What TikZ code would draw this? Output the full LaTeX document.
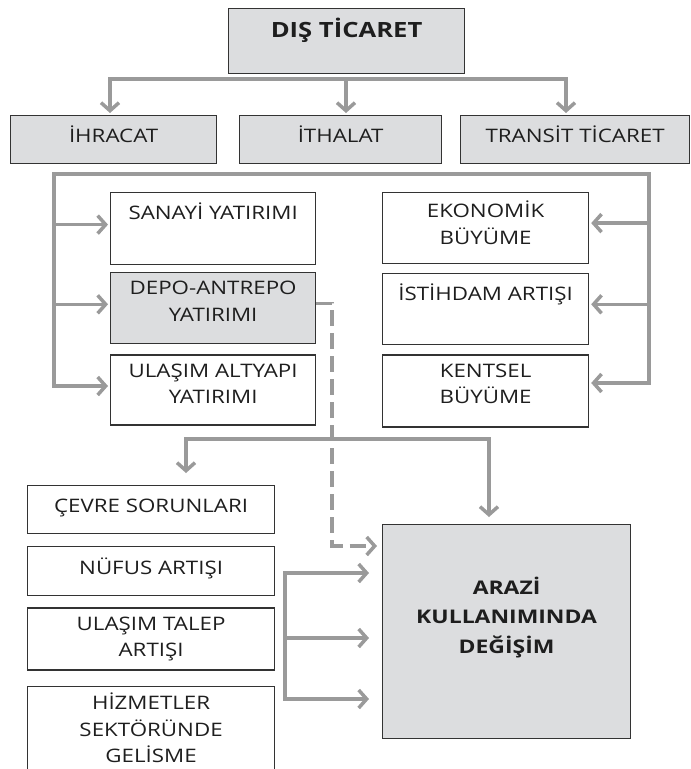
\documentclass[tikz,border=0pt]{standalone}
\usepackage{fontspec}
\newfontfamily\boxfam{Open Sans}[FakeStretch=1.2]
\newfontfamily\headfam{Open Sans}[UprightFont=* Bold, FakeStretch=1.22]
\newcommand\boxfont{\boxfam\fontsize{18.6}{26.5}\selectfont}
\newcommand\topfont{\headfam\fontsize{21}{26}\selectfont}
\newcommand\bigfont{\headfam\fontsize{18.8}{29.5}\selectfont}
\usetikzlibrary{positioning}
\usetikzlibrary{arrows.meta}
\usetikzlibrary{calc}
\definecolor{panel}{HTML}{DCDDDF}
\definecolor{wire}{HTML}{9A9A9A}
\definecolor{edge}{HTML}{333333}
\definecolor{ink}{HTML}{1E1E1E}
\tikzset{
  box/.style={draw=edge, line width=1.2pt, anchor=north west, inner sep=0pt},
  grey/.style={box, fill=panel},
  txt/.style={font=\boxfont, text=ink, align=center, inner sep=0pt, anchor=north, yshift=-9pt,
    execute at begin node={\rule{0pt}{18pt}}},
  link/.style={draw=wire, line width=3.5pt},
  arr/.style={link, -{Straight Barb[length=8pt,width=18pt]}},
}

\begin{document}
\begin{tikzpicture}[x=1pt, y=-1pt]
        \useasboundingbox (0,0) rectangle (691,769);

        \node[grey, minimum width=236pt, minimum height=65pt,
          label={[txt, font=\topfont, yshift=-1pt]north:DIŞ TİCARET}] (dis) at (228,8) {};

        \node[grey, minimum width=206pt, minimum height=48pt, label={[txt]north:İHRACAT}] (ihr) at (10,115) {};
        \node[grey, minimum width=202pt, minimum height=48pt, label={[txt]north:İTHALAT}] (ith) at (239,115) {};
        \node[grey, minimum width=229pt, minimum height=48pt, label={[txt]north:TRANSİT TİCARET}] (trn) at (460,115) {};

        \node[box, minimum width=205pt, minimum height=72pt, label={[txt]north:SANAYİ YATIRIMI}] (snyi) at (110,192) {};
        \node[grey, minimum width=205pt, minimum height=71pt, label={[txt]north:DEPO-ANTREPO\\YATIRIMI}] (depo) [below=7pt of snyi.south west, anchor=north west] {};
        \node[box, minimum width=205pt, minimum height=70pt, label={[txt]north:ULAŞIM ALTYAPI\\YATIRIMI}] (ulas) [below=10pt of depo.south west, anchor=north west] {};

        \node[box, minimum width=206pt, minimum height=71pt, label={[txt]north:EKONOMİK\\BÜYÜME}] (eko) at (382,192) {};
        \node[box, minimum width=206pt, minimum height=71pt, label={[txt]north:İSTİHDAM ARTIŞI}] (ist) [below=9pt of eko.south west, anchor=north west] {};
        \node[box, minimum width=206pt, minimum height=72pt, label={[txt]north:KENTSEL\\BÜYÜME}] (ken) [below=9pt of ist.south west, anchor=north west] {};

        \node[box, minimum width=247pt, minimum height=48pt, label={[txt]north:ÇEVRE SORUNLARI}] (cev) at (27,485) {};
        \node[box, minimum width=247pt, minimum height=49pt, label={[txt, yshift=-1pt]north:NÜFUS ARTIŞI}] (nuf) [below=12pt of cev.south west, anchor=north west] {};
        \node[box, minimum width=247pt, minimum height=62pt, label={[txt]north:ULAŞIM TALEP\\ARTIŞI}] (tlp) [below=11pt of nuf.south west, anchor=north west] {};
        \node[box, minimum width=247pt, minimum height=95pt, label={[txt, yshift=2pt]north:HİZMETLER\\SEKTÖRÜNDE\\GELİSME}] (hiz) [below=15pt of tlp.south west, anchor=north west] {};

        \node[grey, minimum width=248pt, minimum height=214pt,
          label={[txt, font=\bigfont, yshift=-43.7pt]north:ARAZİ\\KULLANIMINDA\\DEĞİŞİM}] (arz) at (382,524) {};

        % top bar
        \coordinate (tl) at (110,79);
        \coordinate (tm) at (346,79);
        \coordinate (tr) at (566,79);
        \draw[arr, shorten >=2pt] (tr) -- (tl) -- (tl |- ihr.north);
        \draw[arr, shorten >=2pt] (tl) -- (tr) -- (tr |- trn.north);
        \draw[arr, shorten >=2pt] (tm) -- (tm |- ith.north);

        % frame to the investment and growth boxes
        \coordinate (fl) at (54,174);
        \coordinate (fr) at (649,174);
        \coordinate (a1) at ([yshift=4pt]snyi.west);
        \coordinate (a2) at ([yshift=4pt]depo.west);
        \coordinate (a3) at ([yshift=4pt]ulas.west);
        \coordinate (b1) at ([yshift=5pt]eko.east);
        \coordinate (b2) at ([yshift=5pt]ist.east);
        \coordinate (b3) at ([yshift=8pt]ken.east);
        \draw[arr, shorten >=2pt] (fr) -- (fl) |- (a3);
        \draw[arr, shorten >=2pt] (fl |- a1) -- (a1);
        \draw[arr, shorten >=2pt] (fl |- a2) -- (a2);
        \draw[arr, shorten >=2pt] (fl) -- (fr) |- (b3);
        \draw[arr, shorten >=2pt] (fr |- b1) -- (b1);
        \draw[arr, shorten >=2pt] (fr |- b2) -- (b2);

        % lower bar
        \coordinate (ll) at (186,439);
        \coordinate (lr) at (489,439);
        \draw[arr, shorten >=12pt] (lr) -- (ll) -- (ll |- cev.north);
        \draw[arr, shorten >=7pt] (ll) -- (lr) -- (lr |- arz.north);

        % dashed link from the depot box
        \coordinate (dtip) at ([shift={(0,22)}]arz.north west);
        \draw[arr, shorten >=5pt, dash pattern=on 16pt off 7pt]
          ([yshift=5pt]depo.east) -- ++(16,0) |- (dtip);

        % feeds into land use change
        \coordinate (f1) at (285,573);
        \coordinate (f2) at (285,638);
        \coordinate (f3) at (285,699);
        \draw[arr, shorten >=13pt] (f3) -- (f1) -- (f1 -| arz.west);
        \draw[arr, shorten >=13pt] (f1) -- (f3) -- (f3 -| arz.west);
        \draw[arr, shorten >=13pt] (f2) -- (f2 -| arz.west);
    \end{tikzpicture}
\end{document}
